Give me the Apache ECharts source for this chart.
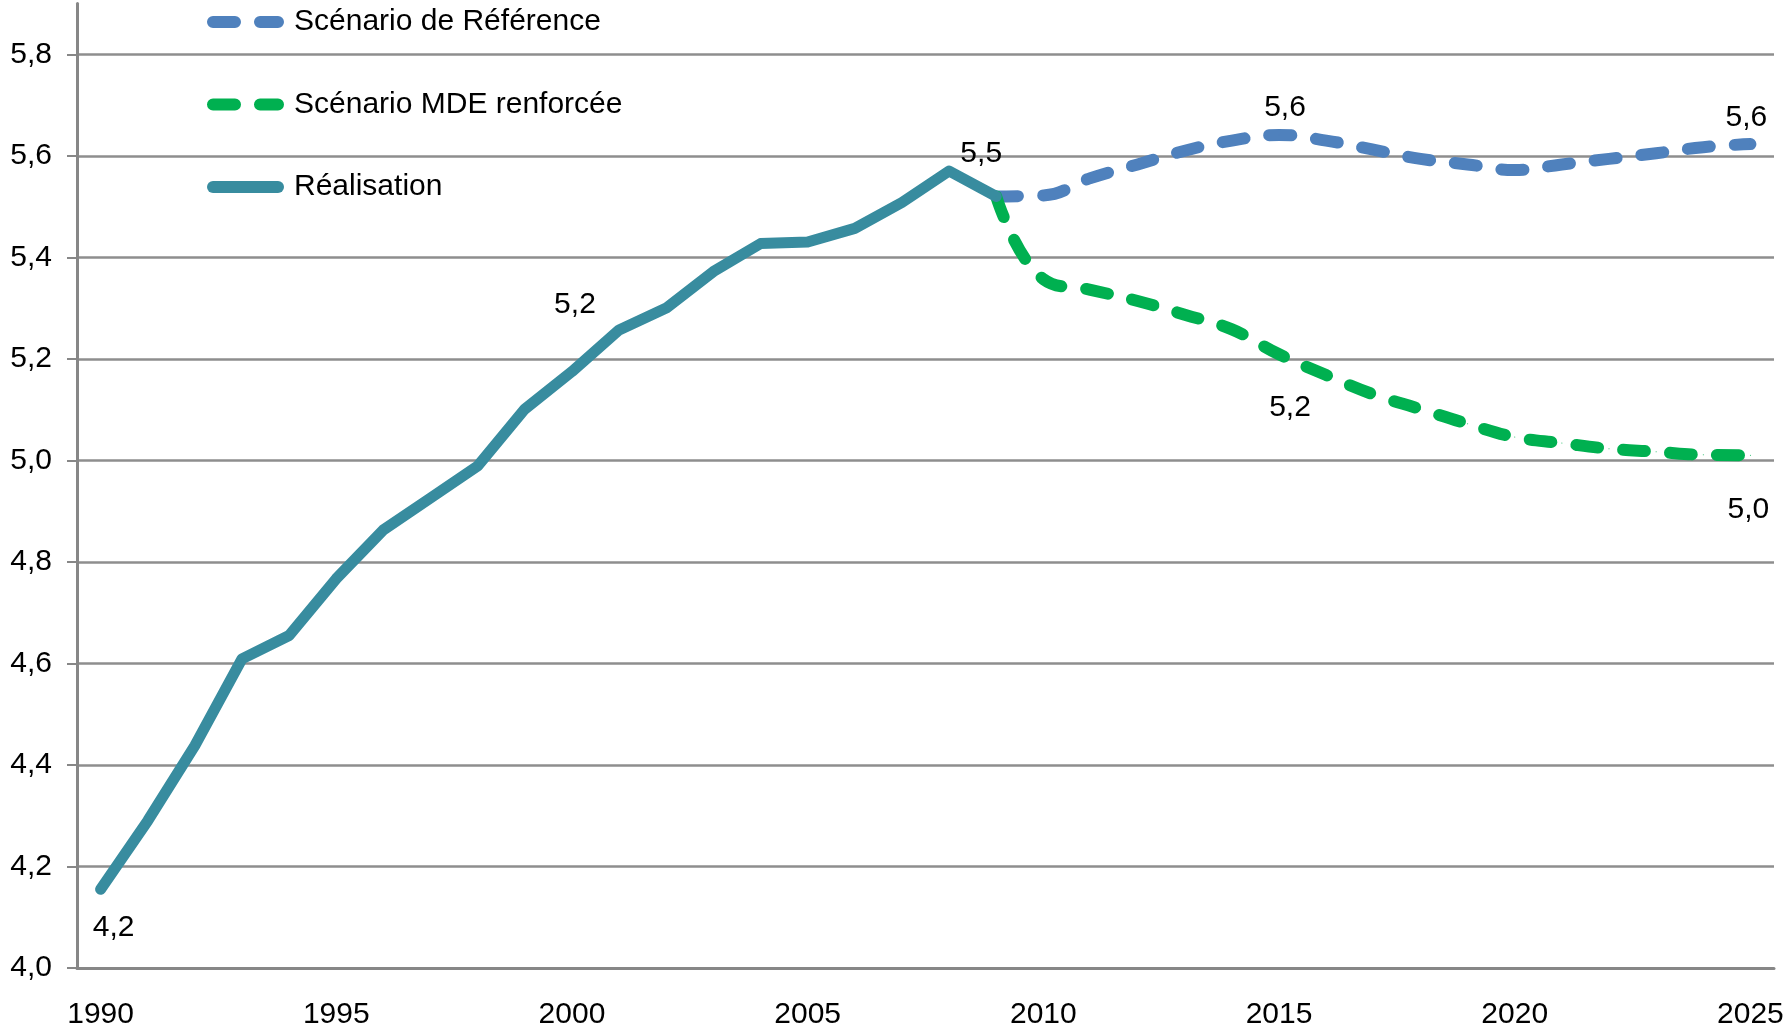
<!DOCTYPE html>
<html>
<head>
<meta charset="utf-8">
<script src="https://cdn.jsdelivr.net/npm/echarts@6/dist/echarts.min.js"></script>
<style>
  html, body { margin: 0; padding: 0; background: #fff; }
  #chart { width: 1787px; height: 1031px; }
</style>
</head>
<body>
<div id="chart"></div>
<script>
// Data
const years = ['1990', '1991', '1992', '1993', '1994', '1995', '1996', '1997', '1998', '1999',
    '2000', '2001', '2002', '2003', '2004', '2005', '2006', '2007', '2008', '2009',
    '2010', '2011', '2012', '2013', '2014', '2015', '2016', '2017', '2018', '2019',
    '2020', '2021', '2022', '2023', '2024', '2025'];

const realisation = [4.155, 4.29, 4.438, 4.609, 4.655, 4.767, 4.863, 4.926, 4.989, 5.101,
    5.175, 5.257, 5.30, 5.372, 5.427, 5.43, 5.457, 5.508, 5.57, 5.52];

const scenarioRef = [5.52, 5.522, 5.556, 5.583, 5.61, 5.63, 5.641, 5.63, 5.612, 5.594,
    5.583, 5.572, 5.583, 5.594, 5.605, 5.617, 5.623];

const scenarioMde = [5.52, 5.357, 5.336, 5.314, 5.287, 5.258, 5.209, 5.168, 5.13, 5.101,
    5.072, 5.046, 5.034, 5.023, 5.017, 5.011, 5.01];

const seriesNames = ['Scénario de Référence', 'Scénario MDE renforcée', 'Réalisation'];

// years that carry a value label
const realLabelYears = ['1990', '2000', '2009'];
const refLabelYears = ['2015', '2025'];
const mdeLabelYears = ['2015', '2025'];

const yTicks = { min: 4.0, max: 5.9, interval: 0.2 };

// Build options
const FONT = '"Liberation Sans", Arial, sans-serif';
const FS = 30;
const fmt = v => v.toFixed(1).replace('.', ',');
const scenarioStart = years.length - scenarioRef.length;

function padded(values, start) {
    return years.map((_, i) => (i >= start && i - start < values.length) ? values[i - start] : null);
}

function withLabels(values, labelYears, offsets) {
    return values.map((v, i) => {
        const k = labelYears.indexOf(years[i]);
        if (v === null || k < 0) return v;
        return {
            value: v,
            label: {
                show: true,
                position: 'inside',
                offset: offsets[k],
                formatter: p => fmt(p.value),
                color: '#000',
                fontSize: FS,
                fontFamily: FONT
            }
        };
    });
}

const realData = withLabels(padded(realisation, 0), realLabelYears, [[13, 38], [3, -67], [-15, -43]]);
const refData = withLabels(padded(scenarioRef, scenarioStart), refLabelYears, [[6, -27], [-4, -26]]);
const mdeData = withLabels(padded(scenarioMde, scenarioStart), mdeLabelYears, [[11, 53], [-2, 54]]);

const axisGrey = '#878787';

const chart = echarts.init(document.getElementById('chart'));
chart.setOption({
    animation: false,
    backgroundColor: '#fff',
    textStyle: { fontFamily: FONT },
    grid: { left: 77, right: 13, top: 3.5, bottom: 63 },
    legend: {
        orient: 'vertical',
        left: 207,
        top: 5,
        padding: 0,
        itemWidth: 65,
        itemHeight: 12,
        itemGap: 48.5,
        data: seriesNames,
        textStyle: { fontSize: FS, color: '#000', fontFamily: FONT, lineHeight: 34, padding: [0, 0, 0, 11] },
        lineStyle: { width: 12 },
        itemStyle: { opacity: 0 }
    },
    xAxis: {
        type: 'category',
        data: years,
        boundaryGap: true,
        axisLine: { lineStyle: { color: axisGrey, width: 3 } },
        axisTick: { interval: 0, length: 10, lineStyle: { color: axisGrey, width: 2 } },
        axisLabel: { interval: 4, margin: 32, fontSize: FS, color: '#000', fontFamily: FONT },
        splitLine: { show: false }
    },
    yAxis: {
        type: 'value',
        min: yTicks.min,
        max: yTicks.max,
        interval: yTicks.interval,
        axisLine: { show: true, lineStyle: { color: axisGrey, width: 3 } },
        axisTick: { show: true, length: 10, lineStyle: { color: axisGrey, width: 2 } },
        axisLabel: { margin: 25, fontSize: FS, color: '#000', fontFamily: FONT, formatter: fmt, showMaxLabel: false },
        splitLine: { show: true, showMinLine: false, showMaxLine: false, lineStyle: { color: '#8e8e8e', width: 2.5 } }
    },
    series: [
        {
            name: seriesNames[0],
            type: 'line',
            data: refData,
            smooth: 0.45,
            symbol: 'circle',
            symbolSize: 1,
            showAllSymbol: true,
            itemStyle: { color: '#4f81bd' },
            lineStyle: { color: '#4f81bd', width: 12, type: [22, 25], cap: 'round', join: 'round' },
            z: 2
        },
        {
            name: seriesNames[1],
            type: 'line',
            data: mdeData,
            smooth: 0.45,
            symbol: 'circle',
            symbolSize: 1,
            showAllSymbol: true,
            itemStyle: { color: '#00b050' },
            lineStyle: { color: '#00b050', width: 12, type: [22, 25], cap: 'round', join: 'round' },
            z: 2
        },
        {
            name: seriesNames[2],
            type: 'line',
            data: realData,
            symbol: 'circle',
            symbolSize: 1,
            showAllSymbol: true,
            itemStyle: { color: '#388c9f' },
            lineStyle: { color: '#388c9f', width: 11, cap: 'round', join: 'round' },
            z: 3
        }
    ]
});
</script>
</body>
</html>
